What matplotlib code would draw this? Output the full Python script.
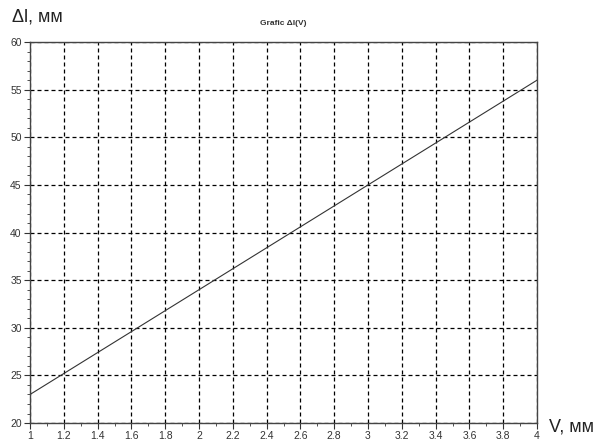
import matplotlib
matplotlib.use("Agg")
import matplotlib.pyplot as plt
from matplotlib.ticker import MultipleLocator, FuncFormatter

V = [1.0, 2.0, 3.0, 4.0]
dl = [23.0, 34.0, 45.0, 56.0]

plt.rcParams['font.family'] = ['Liberation Sans', 'DejaVu Sans']

fig = plt.figure(figsize=(6, 4.43), dpi=100)
ax = fig.add_axes([0.05, 0.045, 0.845, 0.86])
ax.plot(V, dl, color='#333333', lw=0.8)
ax.set_xlim(1, 4)
ax.set_ylim(20, 60)
ax.xaxis.set_major_locator(MultipleLocator(0.2))
ax.xaxis.set_minor_locator(MultipleLocator(0.1))
ax.yaxis.set_major_locator(MultipleLocator(5))
ax.yaxis.set_minor_locator(MultipleLocator(1))
ax.xaxis.set_major_formatter(FuncFormatter(lambda v, p: ('%.1f' % v).rstrip('0').rstrip('.')))
ax.grid(True, which='major', color='black', linestyle=(0, (3.2, 2.4)), lw=0.9)
for s in ax.spines.values():
    s.set_color('#444444')
    s.set_linewidth(1.0)
ax.tick_params(which='major', direction='out', length=4, labelsize=7.5, colors='#333333', pad=2)
ax.tick_params(which='minor', direction='out', length=2, colors='#333333')
ax.set_title('Grafic Δl(V)', fontsize=6, fontweight='bold', color='#333333', pad=12)
fig.text(0.02, 0.962, 'Δl, мм', fontsize=13, va='center', ha='left', color='#222222')
fig.text(0.915, 0.035, 'V, мм', fontsize=13, va='center', ha='left', color='#222222')
fig.savefig('out.png', dpi=100)
